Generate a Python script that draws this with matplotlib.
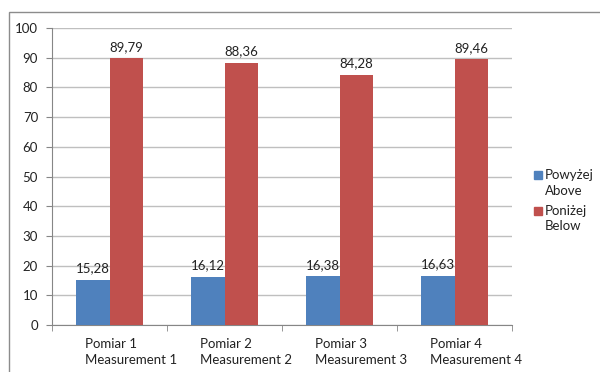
import matplotlib.pyplot as plt
from matplotlib.patches import Rectangle
import numpy as np

plt.rcParams['font.family'] = ['Lato', 'DejaVu Sans']

# Dane
kategorie = ['Pomiar 1\nMeasurement 1', 'Pomiar 2\nMeasurement 2',
             'Pomiar 3\nMeasurement 3', 'Pomiar 4\nMeasurement 4']
powyzej = [15.28, 16.12, 16.38, 16.63]
ponizej = [89.79, 88.36, 84.28, 89.46]
serie = ['Powyżej\nAbove', 'Poniżej\nBelow']
kolory = ['#4F81BD', '#C0504D']

fs = 9.5
tekst = '#222222'

fig = plt.figure(figsize=(6, 3.72), dpi=100)
ax = fig.add_axes([52 / 600, 1 - 325 / 372, 460 / 600, 297 / 372])

x = np.arange(len(kategorie))
w = 0.287
b1 = ax.bar(x - w / 2, powyzej, w, color=kolory[0], zorder=3)
b2 = ax.bar(x + w / 2, ponizej, w, color=kolory[1], zorder=3)

for bars, vals in ((b1, powyzej), (b2, ponizej)):
    for r, v in zip(bars, vals):
        ax.annotate(f'{v:.2f}'.replace('.', ','),
                    (r.get_x() + r.get_width() / 2, v),
                    xytext=(0, 4), textcoords='offset points',
                    ha='center', va='bottom', fontsize=fs, color=tekst)

ax.set_xlim(-0.5, len(kategorie) - 0.5)
ax.set_ylim(0, 100)
ax.set_yticks(np.arange(0, 101, 10))
ax.yaxis.grid(True, color='#BFBFBF', linewidth=1, zorder=0)

# znaczniki osi X na granicach kategorii, etykiety wyrównane do lewej
ax.set_xticks(np.arange(-0.5, len(kategorie)), minor=True)
ax.set_xticks(x - 0.213)
ax.set_xticklabels(kategorie, ha='left', multialignment='left', linespacing=1.4)
ax.tick_params(axis='x', which='major', length=0, pad=9, labelsize=fs,
               labelcolor=tekst)
ax.tick_params(axis='x', which='minor', length=4, color='#868686')
ax.tick_params(axis='y', length=4, color='#868686', pad=6, labelsize=fs,
               labelcolor=tekst)

for s in ('top', 'right'):
    ax.spines[s].set_visible(False)
for s in ('left', 'bottom'):
    ax.spines[s].set_color('#868686')

# legenda
for i, (lab, c) in enumerate(zip(serie, kolory)):
    y0 = 175 + i * 36
    fig.patches.append(Rectangle((534 / 600, 1 - (y0 + 4) / 372), 8 / 600, 8 / 372,
                                 transform=fig.transFigure, color=c))
    fig.text(545 / 600, 1 - (y0 - 6) / 372, lab, va='top', ha='left',
             fontsize=fs, color=tekst, linespacing=1.35)

# ramka wykresu
fig.patches.append(Rectangle((9 / 600, -0.1), 1.2, 1 - 12 / 372 + 0.1,
                             transform=fig.transFigure, fill=False,
                             edgecolor='#8C8C8C', linewidth=1))

fig.savefig('out.png', dpi=100)
